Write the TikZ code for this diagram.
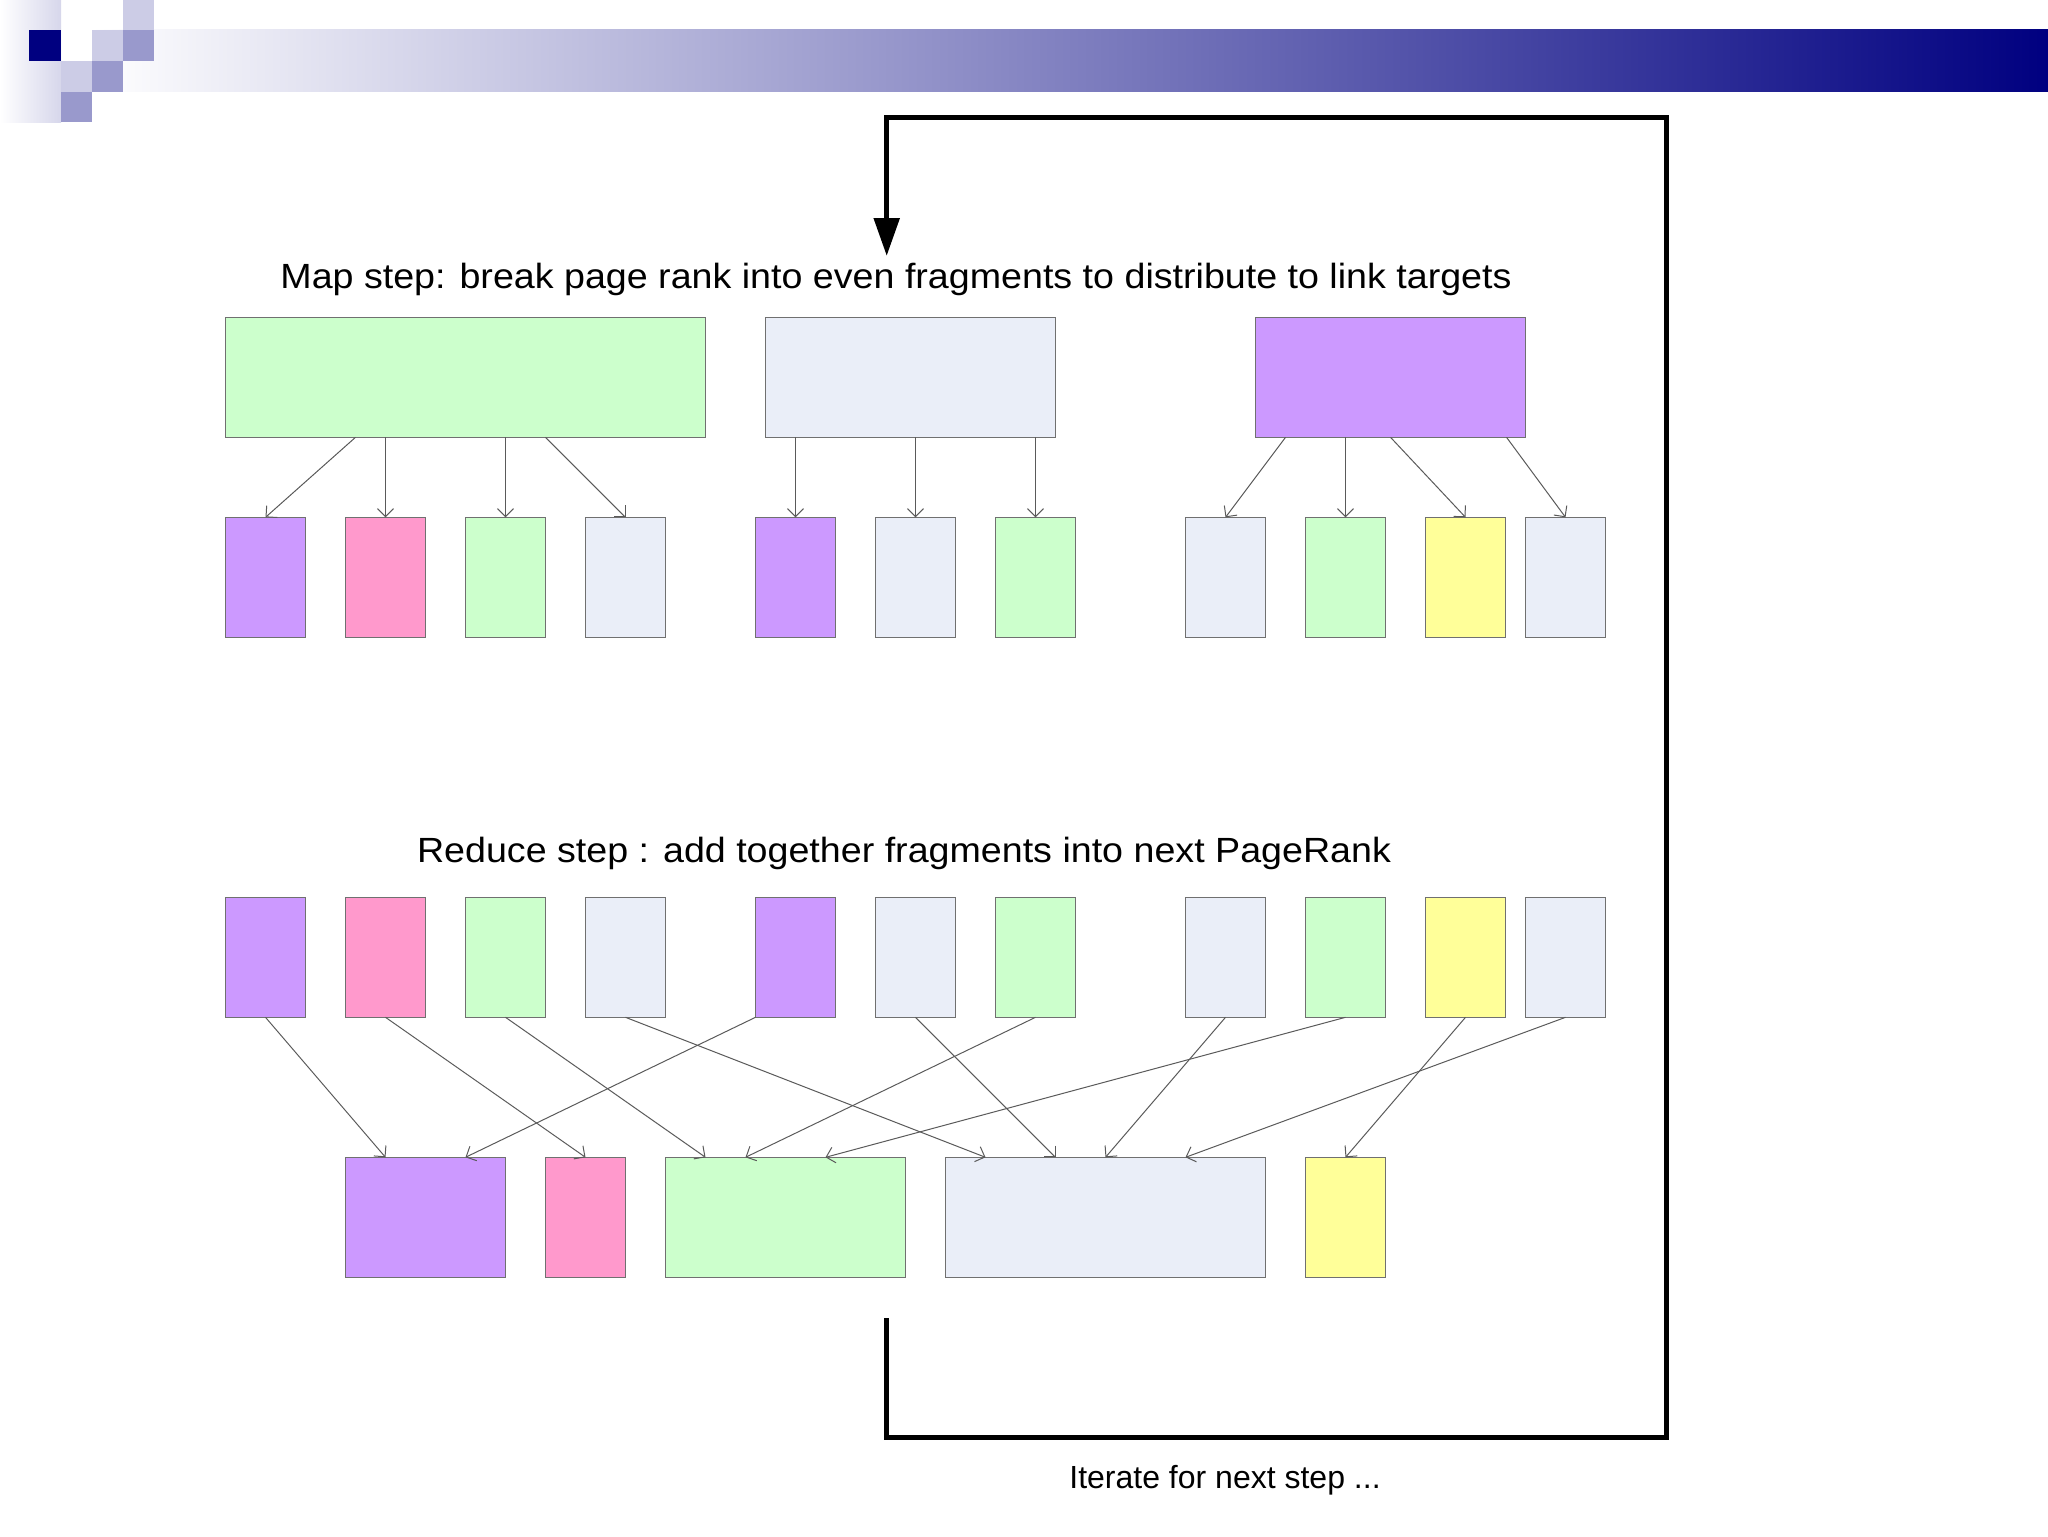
\documentclass[tikz,border=0pt]{standalone}
\usepackage{fontspec}
\setmainfont{Liberation Sans}
\newfontfamily\widesans[FakeStretch=1.075]{Liberation Sans}
\usepackage{xcolor}
\usepackage{tikz}
\usetikzlibrary{arrows.meta,positioning}
\definecolor{frgreen}{HTML}{CCFFCC}
\definecolor{frpurple}{HTML}{CC99FF}
\definecolor{frpink}{HTML}{FF99CC}
\definecolor{frgrey}{HTML}{EAEEF8}
\definecolor{fryellow}{HTML}{FFFF99}
\definecolor{frborder}{HTML}{707070}
\definecolor{arrgray}{HTML}{5A5A5A}
\definecolor{hdnavy}{HTML}{000080}
\definecolor{hdlight}{HTML}{CCCCE6}
\definecolor{hdmid}{HTML}{9999CC}
\newcommand{\steptext}{\widesans\fontsize{17.5pt}{21pt}\selectfont}
\newcommand{\itertext}{\fontsize{16pt}{19pt}\selectfont}

\begin{document}
\begin{tikzpicture}[
x=0.5pt,y=-0.5pt,
node distance=20pt,
every node/.style={font=\steptext},
frag/.style={draw=frborder,line width=0.65pt,minimum width=40pt,minimum height=60pt,inner sep=0pt,outer sep=0pt},
arr/.style={-{Straight Barb[length=4pt,width=8pt]},line width=0.5pt,color=arrgray},
iterline/.style={-{Triangle[length=19pt,width=12.5pt]},line width=2.7pt}
]
\useasboundingbox (0,0) rectangle (2048,1536);
% header band
\shade[left color=white,right color=hdlight!80] (0,0) rectangle (61,122);
\shade[left color=white,right color=hdnavy] (92,30) rectangle (2048,92);
\fill[hdlight] (123,0) rectangle ++(31,30);
\fill[hdlight] (92,30) rectangle ++(31,31);
\fill[hdlight] (61,61) rectangle ++(31,31);
\fill[hdmid] (123,30) rectangle ++(31,31);
\fill[hdmid] (92,61) rectangle ++(31,31);
\fill[hdmid] (61,92) rectangle ++(31,30);
\fill[hdnavy] (29,30) rectangle ++(32,31);

% map step
\node[anchor=base] (maptitle) at (896,288.3) {Map step: break page rank into even fragments to distribute to link targets};
\node[frag,fill=frgreen,minimum width=240pt,anchor=north west] (mapA) at (225.5,317.3) {};
\node[frag,fill=frgrey,minimum width=145pt,right=30pt of mapA] (mapB) {};
\node[frag,fill=frpurple,minimum width=135pt,right=100pt of mapB] (mapC) {};

\node[frag,fill=frpurple,below right=40pt and 0pt of mapA.south west] (f1) {};
\node[frag,fill=frpink,right=of f1] (f2) {};
\node[frag,fill=frgreen,right=of f2] (f3) {};
\node[frag,fill=frgrey,right=of f3] (f4) {};
\node[frag,fill=frpurple,right=45pt of f4] (f5) {};
\node[frag,fill=frgrey,right=of f5] (f6) {};
\node[frag,fill=frgreen,right=of f6] (f7) {};
\node[frag,fill=frgrey,right=55pt of f7] (f8) {};
\node[frag,fill=frgreen,right=of f8] (f9) {};
\node[frag,fill=fryellow,right=of f9] (f10) {};
\node[frag,fill=frgrey,right=10pt of f10] (f11) {};

\draw[arr] ([xshift=65pt]mapA.south west) -- (f1.north);
\draw[arr] (f2 |- mapA.south) -- (f2.north);
\draw[arr] (f3 |- mapA.south) -- (f3.north);
\draw[arr] ([xshift=160pt]mapA.south west) -- (f4.north);
\draw[arr] (f5 |- mapB.south) -- (f5.north);
\draw[arr] (f6 |- mapB.south) -- (f6.north);
\draw[arr] (f7 |- mapB.south) -- (f7.north);
\draw[arr] ([xshift=15pt]mapC.south west) -- (f8.north);
\draw[arr] (f9 |- mapC.south) -- (f9.north);
\draw[arr] (mapC.south) -- (f10.north);
\draw[arr] ([xshift=125.5pt]mapC.south west) -- (f11.north);

% reduce step
\node[anchor=base] (redtitle) at (904,862.3) {Reduce step : add together fragments into next PageRank};
\foreach \i/\c in {1/frpurple,2/frpink,3/frgreen,4/frgrey,5/frpurple,6/frgrey,
  7/frgreen,8/frgrey,9/frgreen,10/fryellow,11/frgrey}
  \node[frag,fill=\c,below=130pt of f\i] (r\i) {};

\node[frag,fill=frpurple,minimum width=80pt,below right=70pt and 0pt of r2.south west] (sP) {};
\node[frag,fill=frpink,right=of sP] (sK) {};
\node[frag,fill=frgreen,minimum width=120pt,right=of sK] (sG) {};
\node[frag,fill=frgrey,minimum width=160pt,right=of sG] (sE) {};
\node[frag,fill=fryellow,right=of sE] (sY) {};

\draw[arr] (r1.south) -- ([xshift=20pt]sP.north west);
\draw[arr] (r2.south) -- (sK.north);
\draw[arr] (r3.south) -- ([xshift=20pt]sG.north west);
\draw[arr] (r4.south) -- ([xshift=20pt]sE.north west);
\draw[arr] (r5.south west) -- ([xshift=60pt]sP.north west);
\draw[arr] (r6.south) -- ([xshift=55pt]sE.north west);
\draw[arr] (r7.south) -- ([xshift=40pt]sG.north west);
\draw[arr] (r8.south) -- (sE.north);
\draw[arr] (r9.south) -- ([xshift=80pt]sG.north west);
\draw[arr] (r10.south) -- (sY.north);
\draw[arr] (r11.south) -- ([xshift=120pt]sE.north west);

% iterate loop
\coordinate (loopfrom) at (886.7,1318);
\coordinate (loopbl) at (886.7,1437.3);
\coordinate (looptr) at (1666.6,117.3);
\coordinate (loopto) at (886.7,256);
\draw[iterline] (loopfrom) -- (loopbl) -| (looptr) -| (loopto);
\node[anchor=base,font=\itertext] (itertitle) at (1225,1488.3) {Iterate for next step ...};
\end{tikzpicture}
\end{document}
